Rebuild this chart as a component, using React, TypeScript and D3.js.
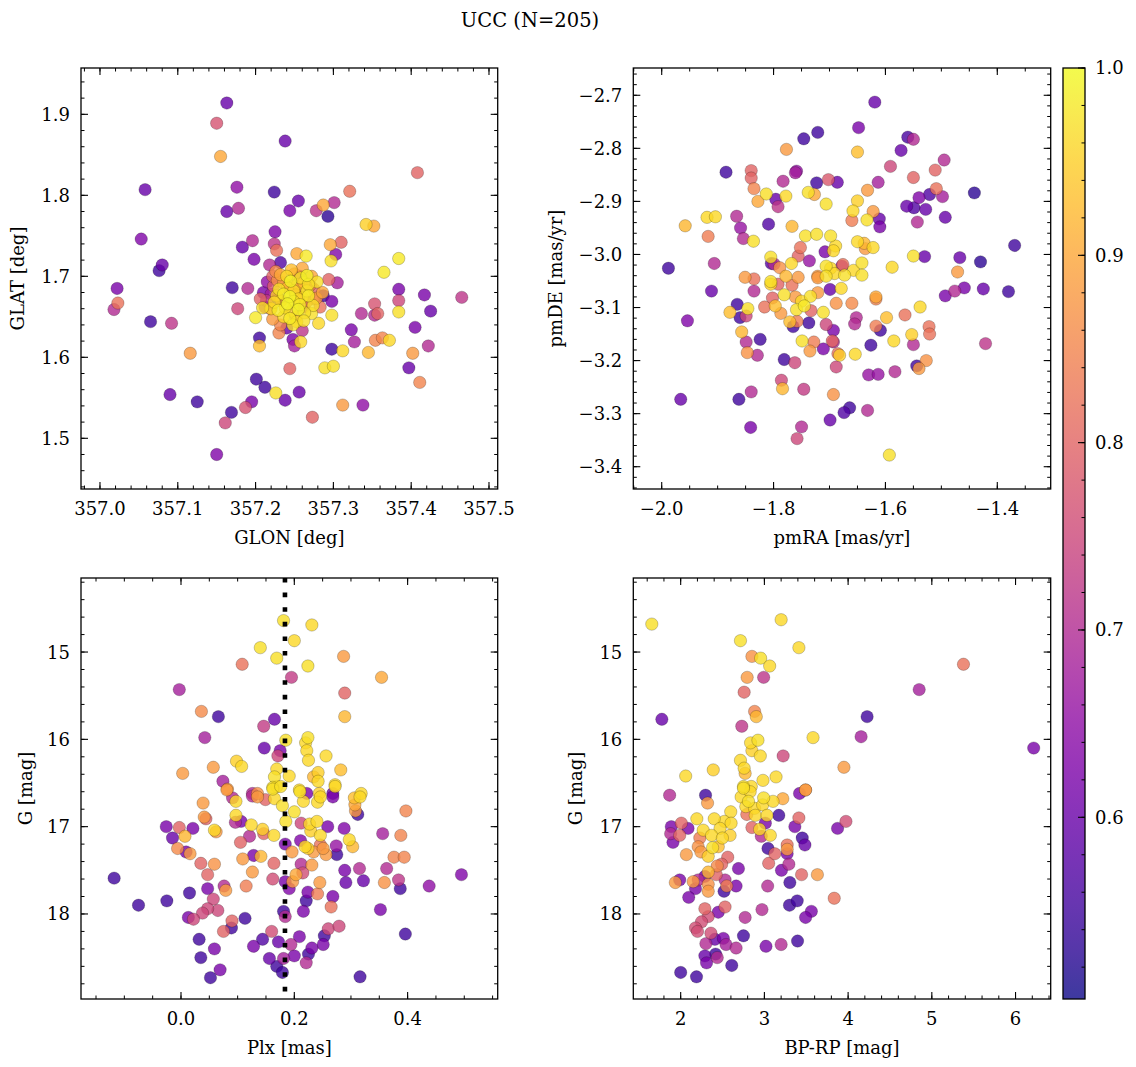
import React from "react";
import * as d3 from "d3";

type Pt = [number, number, number];

// ---------- DATA ----------
const glonGlat: Pt[] = [
  [357.163,1.914,.60],[357.150,1.889,.77],[357.238,1.867,.60],[357.155,1.848,.90],[357.408,1.828,.80],
  [357.058,1.807,.60],[357.176,1.810,.65],[357.224,1.804,.55],[357.321,1.805,.82],[357.255,1.793,.60],
  [357.287,1.788,.90],[357.301,1.791,.70],[357.163,1.780,.60],[357.178,1.784,.70],[357.244,1.781,.62],
  [357.278,1.781,.72],[357.293,1.774,.53],[357.342,1.764,.95],[357.352,1.762,.90],[357.053,1.746,.63],
  [357.225,1.755,.63],[357.196,1.744,.70],[357.183,1.736,.60],[357.224,1.740,.72],[357.227,1.732,.82],
  [357.296,1.739,.90],[357.310,1.742,.80],[357.253,1.728,.90],[357.265,1.725,.98],[357.303,1.727,.63],
  [357.297,1.719,.97],[357.384,1.722,.98],[357.365,1.705,.98],[357.080,1.714,.60],[357.076,1.707,.55],
  [357.198,1.721,.62],[357.232,1.717,.57],[357.218,1.714,.70],
  [357.022,1.685,.62],[357.023,1.667,.82],[357.018,1.659,.70],[357.170,1.686,.55],[357.190,1.685,.70],
  [357.177,1.660,.75],[357.065,1.644,.55],[357.092,1.642,.72],[357.116,1.605,.88],[357.205,1.624,.55],
  [357.205,1.614,.93],[357.230,1.630,.85],[357.248,1.622,.62],[357.250,1.614,.68],[357.260,1.633,.72],
  [357.258,1.619,.96],[357.200,1.649,.98],[357.209,1.661,.97],[357.220,1.660,.96],[357.272,1.654,.97],
  [357.281,1.642,.96],[357.298,1.652,.97],[357.298,1.669,.62],[357.287,1.676,.55],[357.275,1.672,.82],
  [357.294,1.696,.80],[357.305,1.692,.68],[357.384,1.684,.62],[357.384,1.670,.75],[357.384,1.656,.97],
  [357.417,1.677,.62],[357.425,1.657,.60],[357.465,1.674,.72],[357.353,1.666,.77],[357.336,1.654,.70],
  [357.353,1.652,.70],[357.357,1.654,.80],[357.323,1.634,.62],[357.327,1.619,.68],[357.354,1.621,.85],
  [357.363,1.624,.85],[357.372,1.621,.96],[357.405,1.637,.62],[357.422,1.614,.70],[357.402,1.605,.88],
  [357.397,1.587,.60],[357.411,1.569,.85],[357.345,1.606,.92],[357.312,1.608,.96],[357.298,1.610,.55],
  [357.289,1.587,.97],[357.300,1.589,.97],[357.244,1.586,.80],[357.201,1.573,.55],[357.212,1.563,.55],
  [357.226,1.556,.97],[357.238,1.547,.60],[357.256,1.557,.60],[357.195,1.545,.62],[357.187,1.538,.77],
  [357.169,1.532,.55],[357.161,1.519,.75],[357.273,1.526,.80],[357.312,1.541,.88],[357.338,1.541,.65],
  [357.090,1.554,.60],[357.125,1.545,.55],[357.150,1.480,.63],
  [357.232,1.702,.90],[357.240,1.700,.96],[357.250,1.703,.88],[357.258,1.698,.97],[357.266,1.701,.99],
  [357.272,1.700,.90],[357.228,1.695,.86],[357.236,1.692,.88],[357.245,1.694,.99],[357.254,1.690,.90],
  [357.262,1.692,.92],[357.270,1.689,.85],[357.223,1.688,.78],[357.230,1.684,.97],[357.241,1.686,.92],
  [357.249,1.682,.96],[357.257,1.685,.89],[357.266,1.682,.97],[357.275,1.684,.80],[357.220,1.678,.68],
  [357.227,1.676,.95],[357.236,1.678,.98],[357.244,1.675,.99],[357.252,1.677,.90],[357.260,1.674,.93],
  [357.268,1.676,.98],[357.278,1.673,.88],[357.214,1.670,.72],[357.224,1.668,.96],[357.233,1.670,.91],
  [357.241,1.666,.99],[357.249,1.669,.97],[357.257,1.665,.98],[357.265,1.668,.86],[357.274,1.664,.97],
  [357.219,1.660,.82],[357.229,1.658,.98],[357.238,1.661,.97],[357.246,1.657,.94],[357.255,1.659,.99],
  [357.263,1.655,.97],[357.236,1.650,.96],[357.244,1.648,.98],[357.252,1.650,.88],[357.248,1.640,.97],
  [357.240,1.636,.60],[357.232,1.640,.85],[357.262,1.645,.97],[357.210,1.680,.62],[357.206,1.672,.80],
  [357.283,1.662,.82],[357.286,1.680,.90],[357.279,1.693,.97],[357.226,1.706,.86],[357.246,1.708,.93],
  [357.260,1.710,.90],[357.215,1.693,.65],[357.212,1.662,.68],[357.222,1.647,.88],
  [357.243,1.689,.87],[357.255,1.672,.96],[357.268,1.690,.97],[357.253,1.644,.96],[357.222,1.700,.80],
  [357.257,1.700,.60],[357.228,1.673,.55],[357.262,1.662,.70],
];

const pmraPmde: Pt[] = [
  [-1.619,-2.713,.60],[-1.648,-2.761,.62],[-1.721,-2.770,.55],[-1.746,-2.782,.55],[-1.560,-2.779,.56],
  [-1.550,-2.783,.70],[-1.572,-2.804,.60],[-1.777,-2.802,.88],[-1.650,-2.807,.93],[-1.591,-2.834,.75],
  [-1.495,-2.822,.70],[-1.511,-2.841,.80],[-1.550,-2.855,.80],[-1.885,-2.845,.55],[-1.840,-2.842,.80],
  [-1.840,-2.856,.80],[-1.835,-2.876,.85],[-1.783,-2.862,.70],[-1.759,-2.843,.65],[-1.761,-2.846,.68],
  [-1.723,-2.865,.55],[-1.702,-2.859,.78],[-1.686,-2.864,.60],[-1.613,-2.864,.68],[-1.632,-2.879,.88],
  [-1.509,-2.876,.82],[-1.521,-2.887,.57],[-1.540,-2.893,.63],[-1.498,-2.891,.68],[-1.441,-2.884,.53],
  [-1.562,-2.909,.60],[-1.549,-2.912,.57],[-1.528,-2.915,.60],[-1.493,-2.930,.60],[-1.543,-2.939,.70],
  [-1.828,-2.900,.90],[-1.813,-2.886,.97],[-1.796,-2.896,.60],[-1.792,-2.910,.72],[-1.778,-2.890,.96],
  [-1.738,-2.883,.97],[-1.727,-2.887,.90],[-1.706,-2.905,.97],[-1.650,-2.899,.95],[-1.658,-2.918,.96],
  [-1.660,-2.936,.84],[-1.633,-2.935,.97],[-1.622,-2.919,.88],[-1.611,-2.933,.60],[-1.610,-2.948,.62],
  [-1.919,-2.930,.96],[-1.904,-2.929,.96],[-1.958,-2.946,.92],[-1.917,-2.966,.84],[-1.866,-2.928,.70],
  [-1.859,-2.950,.66],[-1.854,-2.970,.70],[-1.836,-2.975,.97],[-1.809,-2.943,.57],[-1.767,-2.947,.92],
  [-1.743,-2.965,.97],[-1.723,-2.962,.97],[-1.698,-2.965,.97],[-1.689,-2.984,.96],[-1.693,-2.993,.96],
  [-1.752,-2.987,.82],[-1.756,-3.003,.80],[-1.708,-2.995,.62],[-1.650,-2.976,.96],[-1.638,-2.979,.92],
  [-1.636,-2.989,.88],[-1.622,-2.987,.96],[-1.550,-3.003,.97],[-1.530,-3.004,.60],[-1.467,-3.006,.60],
  [-1.430,-3.014,.53],[-1.369,-2.983,.55],[-1.988,-3.026,.55],[-1.906,-3.017,.70],[-1.805,-3.005,.97],
  [-1.804,-3.017,.58],[-1.799,-3.018,.70],[-1.789,-3.025,.87],[-1.768,-3.017,.96],[-1.736,-3.012,.66],
  [-1.778,-3.041,.92],[-1.756,-3.043,.88],[-1.851,-3.043,.88],[-1.835,-3.046,.82],[-1.805,-3.051,.97],
  [-1.721,-3.041,.88],[-1.706,-3.022,.97],[-1.698,-3.026,.96],[-1.691,-3.036,.96],[-1.676,-3.019,.82],
  [-1.678,-3.022,.66],[-1.657,-3.030,.96],[-1.642,-3.016,.97],[-1.642,-3.039,.97],[-1.673,-3.039,.97],
  [-1.588,-3.024,.96],[-1.471,-3.033,.88],[-1.706,-3.041,.97],
  [-1.911,-3.069,.60],[-1.954,-3.125,.63],[-1.805,-3.056,.95],[-1.792,-3.056,.80],[-1.767,-3.058,.82],
  [-1.835,-3.069,.70],[-1.781,-3.076,.97],[-1.802,-3.082,.80],[-1.761,-3.080,.88],[-1.750,-3.088,.96],
  [-1.734,-3.079,.97],[-1.721,-3.072,.88],[-1.721,-3.044,.88],[-1.699,-3.066,.60],[-1.679,-3.064,.96],
  [-1.688,-3.092,.87],[-1.660,-3.092,.86],[-1.617,-3.080,.90],[-1.617,-3.084,.85],[-1.878,-3.109,.93],
  [-1.865,-3.094,.55],[-1.846,-3.102,.97],[-1.860,-3.119,.55],[-1.849,-3.116,.75],[-1.816,-3.099,.82],
  [-1.797,-3.097,.93],[-1.787,-3.111,.88],[-1.771,-3.127,.93],[-1.765,-3.136,.55],[-1.758,-3.126,.84],
  [-1.745,-3.097,.98],[-1.759,-3.104,.97],[-1.733,-3.106,.80],[-1.711,-3.109,.97],[-1.737,-3.129,.55],
  [-1.706,-3.132,.75],[-1.693,-3.143,.62],[-1.652,-3.119,.70],[-1.655,-3.131,.70],[-1.749,-3.163,.97],
  [-1.728,-3.165,.84],[-1.735,-3.182,.88],[-1.711,-3.178,.62],[-1.693,-3.165,.70],[-1.695,-3.163,.80],
  [-1.685,-3.187,.82],[-1.682,-3.190,.95],[-1.654,-3.188,.96],[-1.688,-3.212,.75],[-1.857,-3.146,.92],
  [-1.849,-3.165,.70],[-1.847,-3.185,.87],[-1.829,-3.190,.70],[-1.824,-3.160,.55],[-1.781,-3.198,.55],
  [-1.762,-3.204,.75],[-1.786,-3.237,.75],[-1.784,-3.253,.92],[-1.746,-3.254,.73],[-1.840,-3.259,.70],
  [-1.862,-3.273,.55],[-1.966,-3.273,.60],[-1.841,-3.326,.62],[-1.750,-3.325,.70],[-1.758,-3.347,.75],
  [-1.699,-3.312,.60],[-1.674,-3.298,.57],[-1.664,-3.289,.55],[-1.632,-3.294,.70],[-1.693,-3.264,.87],
  [-1.626,-3.171,.55],[-1.630,-3.227,.66],[-1.613,-3.226,.66],[-1.583,-3.221,.70],[-1.617,-3.135,.84],
  [-1.609,-3.143,.55],[-1.598,-3.119,.93],[-1.585,-3.163,.96],[-1.565,-3.114,.82],[-1.550,-3.170,.70],
  [-1.553,-3.151,.95],[-1.538,-3.099,.96],[-1.544,-3.210,.55],[-1.540,-3.215,.88],[-1.527,-3.200,.87],
  [-1.522,-3.136,.82],[-1.521,-3.150,.82],[-1.493,-3.078,.62],[-1.476,-3.069,.70],[-1.459,-3.063,.62],
  [-1.425,-3.065,.60],[-1.380,-3.070,.55],[-1.421,-3.168,.72],[-1.593,-3.378,.97],
];

const plxG: Pt[] = [
  [.181,14.64,.97],[.231,14.69,.96],[.200,14.87,.96],[.140,14.95,.97],[.169,15.07,.97],[.108,15.14,.82],
  [.224,15.16,.97],[.287,15.05,.88],[.195,15.29,.73],[.354,15.29,.90],[-.003,15.43,.68],[.289,15.47,.80],
  [.289,15.74,.92],[.036,15.68,.86],[.066,15.74,.55],[.146,15.85,.73],[.165,15.77,.60],[.042,15.98,.68],
  [.185,16.01,.97],[.224,15.98,.97],[.220,16.04,.96],[.222,16.13,.96],[.225,16.24,.96],[.256,16.19,.96],
  [.147,16.10,.60],[.175,16.13,.62],[.171,16.19,.75],[.098,16.25,.95],[.107,16.31,.96],[.003,16.39,.88],
  [.057,16.32,.88],[.169,16.34,.96],[.165,16.43,.97],[.191,16.42,.96],[.242,16.38,.95],[.234,16.43,.92],
  [.242,16.48,.96],[.282,16.35,.93],[.272,16.52,.96],[.074,16.48,.68],[.082,16.57,.88],[.162,16.55,.97],
  [.169,16.54,.96],[.209,16.58,.96],[.126,16.62,.70],[.135,16.62,.87],[.222,16.62,.62],[.244,16.62,.95],
  [.268,16.62,.60],[.318,16.62,.96],
  [.081,16.58,.88],[.039,16.73,.88],[.097,16.71,.96],[.091,16.67,.70],[.126,16.65,.70],[.135,16.66,.88],
  [.149,16.69,.80],[.162,16.57,.97],[.165,16.68,.96],[.179,16.76,.97],[.176,16.54,.97],[.210,16.60,.97],
  [.216,16.71,.96],[.241,16.72,.96],[.246,16.66,.96],[.268,16.66,.62],[.272,16.54,.96],[.200,16.83,.97],
  [.185,16.94,.97],[.212,16.96,.75],[.227,16.97,.96],[.240,16.94,.96],[.229,17.05,.95],[.246,17.10,.96],
  [.259,17.00,.62],[.288,17.02,.63],[.306,16.67,.93],[.316,16.66,.96],[.307,16.75,.90],[.308,16.82,.88],
  [.312,16.86,.55],[.397,16.82,.85],[.356,17.08,.68],[.388,17.10,.85],[.376,17.35,.85],[.394,17.35,.85],
  [.363,17.48,.70],[.384,17.61,.72],[.359,17.64,.87],[.387,17.71,.55],[.438,17.68,.65],[.495,17.55,.63],
  [.352,17.95,.62],[.396,18.23,.55],[.316,18.72,.55],[-.026,17.00,.62],[-.003,17.01,.80],[.021,17.02,.62],
  [-.015,17.13,.60],[.007,17.11,.92],[-.006,17.25,.86],[.009,17.29,.62],[.016,17.31,.88],[.035,17.42,.80],
  [.059,17.43,.87],[.047,17.55,.80],[-.118,17.59,.55],[-.075,17.90,.55],[-.025,17.85,.55],[.015,17.76,.55],
  [.047,17.71,.62],[.076,17.68,.70],[.079,17.73,.88],[.057,17.83,.75],[.065,17.96,.75],[.047,17.94,.75],
  [.038,17.99,.75],[.013,18.04,.62],[.022,18.06,.75],[.032,18.29,.55],[.035,18.50,.55],[.059,18.40,.62],
  [.052,18.73,.55],[.069,18.64,.62],[.075,18.20,.80],[.089,18.16,.55],[.090,18.08,.80],[.113,18.05,.55],
  [.041,16.89,.88],[.044,16.91,.80],[.059,17.04,.96],[.062,17.06,.88],[.096,16.95,.70],[.097,16.87,.96],
  [.106,16.94,.62],[.124,16.98,.96],[.144,17.03,.95],[.146,17.08,.80],[.164,17.10,.96],[.121,17.11,.70],
  [.105,17.18,.80],[.109,17.37,.88],[.126,17.52,.88],[.128,17.33,.62],[.141,17.34,.92],[.164,17.42,.80],
  [.162,17.60,.76],[.115,17.68,.84],[.184,17.20,.62],[.196,17.29,.88],[.184,17.63,.62],[.191,17.71,.63],
  [.197,17.63,.88],[.203,17.55,.90],[.215,17.53,.76],[.212,17.43,.70],[.211,17.16,.63],[.219,17.23,.96],
  [.224,17.25,.95],[.234,17.29,.88],[.231,17.44,.88],[.246,17.21,.82],[.256,17.32,.88],[.251,17.25,.88],
  [.274,17.22,.66],[.275,17.32,.55],[.297,17.15,.96],[.303,17.23,.92],[.289,17.50,.62],[.315,17.48,.70],
  [.291,17.64,.60],[.322,17.62,.60],[.245,17.64,.88],[.241,17.77,.84],[.224,17.75,.62],[.221,17.85,.55],
  [.268,17.80,.62],[.265,17.92,.82],[.216,17.97,.62],[.181,17.97,.55],[.184,18.03,.70],[.260,18.17,.75],
  [.279,18.14,.75],[.253,18.25,.55],[.251,18.35,.62],[.231,18.39,.62],[.225,18.46,.55],[.221,18.56,.70],
  [.209,18.26,.62],[.200,18.48,.62],[.194,18.35,.70],[.160,18.20,.76],[.144,18.29,.57],[.172,18.32,.60],
  [.128,18.37,.62],[.156,18.51,.60],[.169,18.60,.55],[.181,18.51,.68],[.179,18.67,.55],
];

const bprpG: Pt[] = [
  [1.655,14.68,.97],[3.200,14.63,.96],[2.714,14.87,.97],[3.412,14.95,.96],[2.851,15.05,.87],[2.955,15.07,.97],
  [3.063,15.16,.96],[5.378,15.14,.82],[2.794,15.29,.88],[2.991,15.29,.72],[4.849,15.43,.68],[2.758,15.46,.80],
  [2.883,15.68,.85],[2.903,15.74,.92],[1.775,15.77,.60],[4.227,15.74,.55],[2.730,15.85,.72],[2.923,16.01,.97],
  [2.835,16.04,.96],[2.851,16.13,.95],[2.951,16.19,.96],[3.581,15.98,.96],[4.155,15.97,.68],[6.217,16.10,.62],
  [3.224,16.19,.75],[2.714,16.24,.96],[2.758,16.33,.96],[2.060,16.42,.96],[2.389,16.35,.95],[2.983,16.47,.96],
  [3.139,16.43,.96],[3.950,16.32,.88],[3.492,16.58,.88],[2.770,16.39,.92],[2.750,16.54,.97],[2.843,16.54,.96],
  [1.868,16.64,.70],[2.297,16.64,.55],[3.420,16.62,.62],
  [2.321,16.73,.88],[2.750,16.56,.97],[2.722,16.66,.96],[2.830,16.60,.96],[2.810,16.71,.97],[2.778,16.77,.96],
  [2.883,16.79,.96],[2.991,16.67,.97],[2.979,16.75,.96],[3.103,16.71,.96],[3.220,16.68,.90],[2.891,16.87,.96],
  [2.790,16.86,.82],[3.031,16.87,.96],[3.492,16.58,.88],[3.172,16.87,.55],[2.943,17.03,.96],[3.071,17.10,.96],
  [2.963,17.11,.70],[2.851,17.01,.80],[3.011,16.96,.62],[3.412,16.90,.80],[3.364,17.00,.62],[3.452,17.13,.55],
  [3.484,17.21,.60],[3.874,17.02,.62],[3.974,16.94,.76],[2.598,16.83,.96],[2.522,16.94,.96],[2.602,16.96,.96],
  [2.590,17.10,.95],[2.401,16.91,.96],[2.193,16.91,.96],[2.470,17.02,.96],[2.269,17.04,.96],[2.369,17.10,.96],
  [2.498,17.13,.96],[2.381,17.24,.97],[2.329,17.34,.95],[2.449,17.23,.93],[1.888,17.00,.62],[2.008,16.96,.80],
  [2.088,17.02,.62],[1.880,17.08,.70],[1.988,17.10,.80],[1.908,17.18,.62],[2.229,17.13,.84],[2.209,17.23,.87],
  [2.241,17.29,.88],[2.068,17.32,.88],[2.562,17.35,.80],[2.437,17.45,.86],[2.489,17.43,.80],[2.329,17.52,.92],
  [2.289,17.57,.62],[2.209,17.61,.70],[2.425,17.55,.80],[2.530,17.61,.70],[1.936,17.64,.88],[1.988,17.61,.62],
  [2.149,17.63,.88],[2.177,17.71,.62],[2.096,17.81,.62],[2.329,17.66,.87],[2.329,17.74,.88],[2.518,17.74,.55],
  [2.550,17.68,.84],[2.662,17.68,.62],[2.690,17.48,.62],[3.051,17.42,.80],[3.039,17.68,.70],[3.204,17.50,.62],
  [3.292,17.43,.70],[3.272,17.21,.82],[3.272,17.26,.88],[3.272,17.31,.62],[3.124,17.31,.80],[3.043,17.25,.55],
  [3.304,17.64,.55],[3.444,17.55,.80],[3.633,17.55,.88],[3.834,17.82,.82],[3.300,17.90,.55],[3.392,17.85,.55],
  [3.561,17.97,.62],[3.492,18.04,.62],[2.971,17.95,.70],[2.770,18.04,.70],[2.530,17.92,.80],[2.449,17.98,.62],
  [2.289,17.94,.80],[2.329,18.03,.76],[2.249,18.09,.76],[2.177,18.16,.76],[2.201,18.20,.76],[2.361,18.22,.76],
  [2.409,18.29,.60],[2.510,18.28,.62],[2.542,18.35,.68],[2.662,18.39,.70],[2.301,18.34,.70],[2.750,18.25,.55],
  [3.019,18.37,.62],[3.200,18.35,.70],[3.396,18.31,.55],[2.289,18.48,.60],[2.417,18.46,.55],[2.437,18.50,.70],
  [2.309,18.56,.62],[2.610,18.59,.55],[2.000,18.67,.55],[2.189,18.72,.55],
];

const glonTicks = [357.0, 357.1, 357.2, 357.3, 357.4, 357.5];
const glatTicks = [1.5, 1.6, 1.7, 1.8, 1.9];
const pmraTicks = [-2.0, -1.8, -1.6, -1.4];
const pmdeTicks = [-3.4, -3.3, -3.2, -3.1, -3.0, -2.9, -2.8, -2.7];
const plxTicks = [0.0, 0.2, 0.4];
const gTicks = [15, 16, 17, 18];
const bprpTicks = [2, 3, 4, 5, 6];
const cbarTicks = [0.6, 0.7, 0.8, 0.9, 1.0];
const plxLine = 0.1835;
const probMin = 0.503;
const probMax = 1.0;

// ---------- LAYOUT ----------
const FONT = "'DejaVu Serif', serif";
const FS = 18;
const color = d3.scaleSequential(d3.interpolatePlasma).domain([probMin, probMax]);

interface PanelProps {
  left: number; right: number; top: number; bottom: number;
  xDomain: [number, number]; yDomain: [number, number];
  xTicks: number[]; yTicks: number[]; xMinor: number; yMinor: number;
  xFmt: (v: number) => string; yFmt: (v: number) => string;
  xLabel: string; yLabel: string; yLabelX: number;
  points: Pt[]; vline?: number;
}

function minorTicks(domain: [number, number], step: number) {
  const lo = Math.min(domain[0], domain[1]);
  const hi = Math.max(domain[0], domain[1]);
  const out: number[] = [];
  for (let k = Math.ceil(lo / step - 1e-9); k * step <= hi + 1e-9; k++) out.push(k * step);
  return out;
}

function Panel(p: PanelProps) {
  const x = d3.scaleLinear().domain(p.xDomain).range([p.left, p.right]);
  const y = d3.scaleLinear().domain(p.yDomain).range([p.bottom, p.top]);
  const MAJ = 7, MIN = 3.5;
  const xs = [...p.points].sort((a, b) => a[2] - b[2]);
  const xm = minorTicks(p.xDomain, p.xMinor);
  const ym = minorTicks(p.yDomain, p.yMinor);
  const clipId = `clip-${Math.round(p.left)}-${Math.round(p.top)}`;
  return (
    <g>
      <defs>
        <clipPath id={clipId}>
          <rect x={p.left} y={p.top} width={p.right - p.left} height={p.bottom - p.top} />
        </clipPath>
      </defs>
      <g clipPath={`url(#${clipId})`}>
        {xs.map((d, i) => (
          <circle key={i} cx={x(d[0])} cy={y(d[1])} r={6.2}
            fill={color(d[2])} fillOpacity={0.8}
            stroke="#000" strokeOpacity={0.35} strokeWidth={0.6} />
        ))}
        {p.vline !== undefined && (
          <line x1={x(p.vline)} x2={x(p.vline)} y1={p.top} y2={p.bottom}
            stroke="#000" strokeWidth={4.6} strokeDasharray="4.6 10" />
        )}
      </g>
      {xm.map((v, i) => (
        <g key={"xm" + i}>
          <line x1={x(v)} x2={x(v)} y1={p.bottom} y2={p.bottom - MIN} stroke="#000" strokeWidth={1} />
          <line x1={x(v)} x2={x(v)} y1={p.top} y2={p.top + MIN} stroke="#000" strokeWidth={1} />
        </g>
      ))}
      {ym.map((v, i) => (
        <g key={"ym" + i}>
          <line x1={p.left} x2={p.left + MIN} y1={y(v)} y2={y(v)} stroke="#000" strokeWidth={1} />
          <line x1={p.right} x2={p.right - MIN} y1={y(v)} y2={y(v)} stroke="#000" strokeWidth={1} />
        </g>
      ))}
      {p.xTicks.map((v, i) => (
        <g key={"xt" + i}>
          <line x1={x(v)} x2={x(v)} y1={p.bottom} y2={p.bottom - MAJ} stroke="#000" strokeWidth={1.1} />
          <line x1={x(v)} x2={x(v)} y1={p.top} y2={p.top + MAJ} stroke="#000" strokeWidth={1.1} />
          <text x={x(v)} y={p.bottom + 26} textAnchor="middle" fontFamily={FONT} fontSize={FS}>{p.xFmt(v)}</text>
        </g>
      ))}
      {p.yTicks.map((v, i) => (
        <g key={"yt" + i}>
          <line x1={p.left} x2={p.left + MAJ} y1={y(v)} y2={y(v)} stroke="#000" strokeWidth={1.1} />
          <line x1={p.right} x2={p.right - MAJ} y1={y(v)} y2={y(v)} stroke="#000" strokeWidth={1.1} />
          <text x={p.left - 11} y={y(v)} dy="0.36em" textAnchor="end" fontFamily={FONT} fontSize={FS}>{p.yFmt(v)}</text>
        </g>
      ))}
      <rect x={p.left} y={p.top} width={p.right - p.left} height={p.bottom - p.top}
        fill="none" stroke="#000" strokeWidth={1.3} />
      <text x={(p.left + p.right) / 2} y={p.bottom + 55} textAnchor="middle" fontFamily={FONT} fontSize={FS}>{p.xLabel}</text>
      <text transform={`translate(${p.yLabelX},${(p.top + p.bottom) / 2}) rotate(-90)`} dy="0.36em"
        textAnchor="middle" fontFamily={FONT} fontSize={FS}>{p.yLabel}</text>
    </g>
  );
}

function Colorbar({ left, right, top, bottom }: { left: number; right: number; top: number; bottom: number }) {
  const y = d3.scaleLinear().domain([probMin, probMax]).range([bottom, top]);
  const stops = d3.range(0, 1.0001, 0.05);
  const minor = minorTicks([probMin, probMax], 0.02);
  return (
    <g>
      <defs>
        <linearGradient id="cbar" x1="0" y1="1" x2="0" y2="0">
          {stops.map((t, i) => (
            <stop key={i} offset={t} stopColor={d3.interpolatePlasma(t)} />
          ))}
        </linearGradient>
      </defs>
      <rect x={left} y={top} width={right - left} height={bottom - top} fill="url(#cbar)" opacity={0.8} />
      {minor.map((v, i) => (
        <line key={"cm" + i} x1={right} x2={right - 3.5} y1={y(v)} y2={y(v)} stroke="#000" strokeWidth={1} />
      ))}
      {cbarTicks.map((v, i) => (
        <g key={"ct" + i}>
          <line x1={right} x2={right - 7} y1={y(v)} y2={y(v)} stroke="#000" strokeWidth={1.1} />
          <text x={right + 10} y={y(v)} dy="0.36em" fontFamily={FONT} fontSize={FS}>{v.toFixed(1)}</text>
        </g>
      ))}
      <rect x={left} y={top} width={right - left} height={bottom - top} fill="none" stroke="#000" strokeWidth={1.3} />
    </g>
  );
}

export default function App() {
  const f1 = d3.format(".1f");
  const fd = d3.format("d");
  const T = 68, B1 = 489, T2 = 578, B2 = 999;
  const L1 = 81, R1 = 497.7, L2 = 633.3, R2 = 1050.7;
  return (
    <svg width={1136} height={1067} style={{ display: "block", position: "absolute", left: 0, top: 0, background: "#fff" }}>
      <rect x={0} y={0} width={1136} height={1067} fill="#fff" />
      <text x={530} y={27} textAnchor="middle" fontFamily={FONT} fontSize={19.5}>UCC (N=205)</text>
      <Panel left={L1} right={R1} top={T} bottom={B1}
        xDomain={[356.9756, 357.5112]} yDomain={[1.4374, 1.9572]}
        xTicks={glonTicks} yTicks={glatTicks} xMinor={0.02} yMinor={0.02}
        xFmt={f1} yFmt={f1} xLabel="GLON [deg]" yLabel="GLAT [deg]" yLabelX={18}
        points={glonGlat} />
      <Panel left={L2} right={R2} top={T} bottom={B1}
        xDomain={[-2.0508, -1.3045]} yDomain={[-3.442, -2.6486]}
        xTicks={pmraTicks} yTicks={pmdeTicks} xMinor={0.05} yMinor={0.02}
        xFmt={f1} yFmt={f1} xLabel="pmRA [mas/yr]" yLabel="pmDE [mas/yr]" yLabelX={556}
        points={pmraPmde} />
      <Panel left={L1} right={R1} top={T2} bottom={B2}
        xDomain={[-0.1765, 0.559]} yDomain={[18.974, 14.152]}
        xTicks={plxTicks} yTicks={gTicks} xMinor={0.05} yMinor={0.2}
        xFmt={f1} yFmt={fd} xLabel="Plx [mas]" yLabel="G [mag]" yLabelX={26}
        points={plxG} vline={plxLine} />
      <Panel left={L2} right={R2} top={T2} bottom={B2}
        xDomain={[1.434, 6.42]} yDomain={[18.974, 14.152]}
        xTicks={bprpTicks} yTicks={gTicks} xMinor={0.2} yMinor={0.2}
        xFmt={fd} yFmt={fd} xLabel="BP-RP [mag]" yLabel="G [mag]" yLabelX={576}
        points={bprpG} />
      <Colorbar left={1063} right={1085} top={T} bottom={B2} />
    </svg>
  );
}
